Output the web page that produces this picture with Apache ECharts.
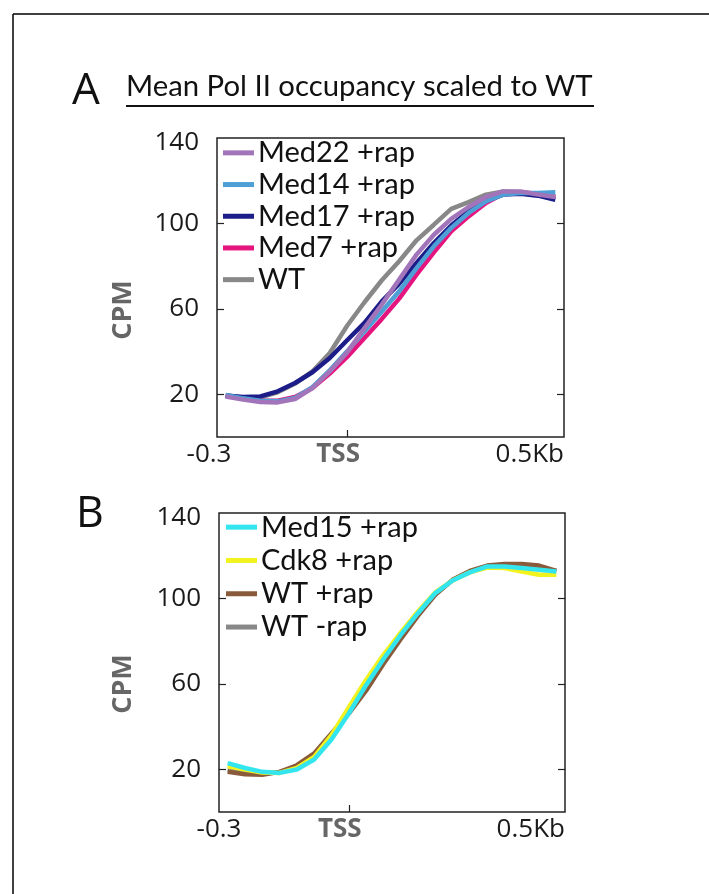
<!DOCTYPE html>
<html>
<head>
<meta charset="utf-8">
<script src="https://cdn.jsdelivr.net/npm/echarts@6/dist/echarts.min.js"></script>
<style>
html,body{margin:0;padding:0;background:#fff;}
#chart{width:709px;height:894px;}
</style>
</head>
<body>
<div id="chart"></div>
<script>
// Distance from TSS (kb)
const xKb = [-0.28, -0.24, -0.20, -0.16, -0.12, -0.08, -0.04, 0.00, 0.04, 0.08, 0.12, 0.16, 0.20, 0.24, 0.28, 0.32, 0.36, 0.40, 0.44, 0.48];

// Panel A
const med22Rap = [19.0, 17.5, 16.4, 16.2, 17.8, 22.9, 30.7, 39.6, 51.0, 62.0, 73.7, 85.4, 94.7, 102.1, 107.7, 112.4, 115.0, 115.0, 113.5, 112.4];
const med14Rap = [19.7, 18.1, 17.0, 16.7, 18.3, 23.3, 31.2, 40.1, 49.5, 58.8, 68.2, 79.1, 89.3, 97.9, 104.9, 110.3, 113.5, 114.2, 114.2, 114.6];
const med17Rap = [19.4, 18.7, 19.0, 21.4, 25.3, 30.3, 37.0, 45.3, 53.4, 63.5, 71.8, 81.5, 90.8, 99.0, 105.7, 110.7, 113.5, 113.9, 113.0, 111.1];
const med7Rap  = [19.4, 18.1, 17.0, 17.0, 18.7, 22.9, 29.7, 37.5, 46.4, 55.3, 64.8, 76.0, 86.5, 96.3, 103.3, 109.6, 113.9, 114.6, 113.9, 112.4];
const wtA      = [19.4, 18.4, 18.6, 20.9, 25.0, 30.7, 39.3, 52.1, 63.1, 73.4, 82.3, 92.1, 99.4, 106.8, 110.0, 113.5, 115.0, 114.6, 113.3, 112.4];

// Panel B
const med15Rap = [22.9, 20.6, 18.8, 18.3, 19.9, 24.6, 33.9, 46.1, 59.4, 71.5, 82.9, 93.1, 102.5, 108.4, 112.2, 115.0, 115.0, 114.2, 113.4, 112.6];
const cdk8Rap  = [21.4, 19.9, 18.5, 18.3, 20.6, 25.8, 36.0, 49.0, 61.8, 73.5, 84.0, 93.9, 102.8, 108.4, 112.2, 114.5, 114.2, 112.6, 111.1, 111.1];
const wtRap    = [18.8, 17.7, 17.4, 18.8, 21.9, 27.4, 36.8, 46.1, 56.8, 69.3, 80.9, 91.8, 101.7, 108.7, 112.9, 115.4, 116.1, 116.1, 115.4, 112.9];
const wtNoRap  = [19.5, 18.5, 18.0, 18.6, 21.0, 26.5, 35.5, 47.0, 58.5, 70.5, 82.0, 92.5, 102.0, 108.5, 112.5, 115.0, 115.5, 115.0, 114.0, 112.8];

// Tick labels
const xTickValues = [-0.3, 0, 0.5];
const xTickLabels = ['-0.3', 'TSS', '0.5Kb'];
const yTickValues = [20, 60, 100, 140];

const seriesA = [
  {name: 'WT', data: wtA, color: '#888888'},
  {name: 'Med7 +rap', data: med7Rap, color: '#e5157f'},
  {name: 'Med17 +rap', data: med17Rap, color: '#1d1d8a'},
  {name: 'Med14 +rap', data: med14Rap, color: '#4d9fd6'},
  {name: 'Med22 +rap', data: med22Rap, color: '#a275ba'}
];
const legendA = ['Med22 +rap', 'Med14 +rap', 'Med17 +rap', 'Med7 +rap', 'WT'];

const seriesB = [
  {name: 'WT -rap', data: wtNoRap, color: '#888888'},
  {name: 'WT +rap', data: wtRap, color: '#8a5b3b'},
  {name: 'Cdk8 +rap', data: cdk8Rap, color: '#f2f21e'},
  {name: 'Med15 +rap', data: med15Rap, color: '#33e5ef'}
];
const legendB = ['Med15 +rap', 'Cdk8 +rap', 'WT +rap', 'WT -rap'];

const FONT = 'Open Sans';
const LFONT = 'Lato';

function xAxisCfg(gridIndex, shiftMin) {
  return {
    type: 'value', gridIndex, min: -0.3, max: 0.5,
    axisLine: {show: false, onZero: false},
    splitLine: {show: false},
    axisTick: {show: true, inside: true, length: 7, customValues: [0], lineStyle: {color: '#222', width: 1.2}},
    axisLabel: {
      show: true, customValues: xTickValues, margin: 5,
      alignMaxLabel: 'right',
      fontFamily: FONT, fontSize: 26, color: '#1a1a1a',
      formatter: function (v) {
        const i = xTickValues.findIndex(t => Math.abs(t - v) < 1e-9);
        if (i === 0) return shiftMin ? '{l|' + xTickLabels[0] + '}' : xTickLabels[0];
        if (i === 1) return '{tss|' + xTickLabels[1] + '}';
        return i >= 0 ? xTickLabels[i] : '';
      },
      rich: {
        tss: {fontFamily: FONT, fontSize: 26, fontWeight: 'bold', color: '#666666', padding: [0, 18, 0, 0]},
        l: {fontFamily: FONT, fontSize: 26, color: '#1a1a1a', padding: [0, 16, 0, 0]}
      }
    }
  };
}
function yAxisCfg(gridIndex, right) {
  return {
    type: 'value', gridIndex, min: 0, max: 140,
    position: right ? 'right' : 'left',
    axisLine: {show: false, onZero: false},
    splitLine: {show: false},
    axisTick: {show: true, inside: true, length: 7, customValues: [20, 60, 100], lineStyle: {color: '#222', width: 1.2}},
    axisLabel: right ? {show: false} : {
      show: true, customValues: yTickValues, margin: 18,
      fontFamily: FONT, fontSize: 26, color: '#1a1a1a',
      formatter: function (v) { return v === 140 ? '{t|' + v + '}' : String(v); },
      rich: {t: {fontFamily: FONT, fontSize: 26, color: '#1a1a1a', padding: [9, 0, 0, 0]}}
    }
  };
}

function lineSeries(s, xi, yi) {
  return {
    type: 'line', name: s.name, xAxisIndex: xi, yAxisIndex: yi,
    data: xKb.map((x, i) => [x, s.data[i]]),
    showSymbol: false, symbol: 'none',
    lineStyle: {width: 4.5, color: s.color},
    itemStyle: {color: s.color},
    silent: true
  };
}

const legendCommon = {
  orient: 'vertical', icon: 'rect', itemWidth: 31, itemHeight: 5, itemGap: 0,
  padding: 0, selectedMode: false
};

const option = {
  animation: false,
  backgroundColor: '#fff',
  grid: [
    {left: 217, top: 138, width: 347, height: 299, show: true, borderColor: '#222', borderWidth: 1.5, backgroundColor: 'transparent'},
    {left: 219, top: 513, width: 346, height: 299, show: true, borderColor: '#222', borderWidth: 1.5, backgroundColor: 'transparent'}
  ],
  xAxis: [xAxisCfg(0, true), xAxisCfg(1, false)],
  yAxis: [yAxisCfg(0, false), yAxisCfg(0, true), yAxisCfg(1, false), yAxisCfg(1, true)],
  legend: [
    Object.assign({}, legendCommon, {data: legendA, left: 223, top: 137,
      textStyle: {fontFamily: LFONT, fontSize: 29, color: '#111', lineHeight: 31.7, padding: [0, 0, 0, -1]}}),
    Object.assign({}, legendCommon, {data: legendB, left: 226, top: 510.5,
      textStyle: {fontFamily: LFONT, fontSize: 29, color: '#111', lineHeight: 33.3, padding: [0, 0, 0, -1]}})
  ],
  series: seriesA.map(s => lineSeries(s, 0, 0)).concat(seriesB.map(s => lineSeries(s, 1, 2))),
  graphic: [
    {type: 'line', shape: {x1: 13, y1: 14, x2: 709, y2: 14}, style: {stroke: '#000', lineWidth: 1.5}},
    {type: 'line', shape: {x1: 13, y1: 14, x2: 13, y2: 894}, style: {stroke: '#000', lineWidth: 1.5}},
    {type: 'text', left: 72, top: 69, style: {text: 'A', fontFamily: FONT, fontSize: 44, fill: '#111'}},
    {type: 'text', left: 126, top: 72, style: {text: 'Mean Pol II occupancy scaled to WT', fontFamily: LFONT, fontSize: 29.3, fill: '#111'}},
    {type: 'line', shape: {x1: 126, y1: 106, x2: 594, y2: 106}, style: {stroke: '#111', lineWidth: 2}},
    {type: 'text', left: 76, top: 493, style: {text: 'B', fontFamily: FONT, fontSize: 43, fill: '#111'}},
    {type: 'text', x: 123, y: 310, rotation: Math.PI / 2, style: {text: 'CPM', fontFamily: FONT, fontSize: 27, fontWeight: 'bold', fill: '#666', align: 'center', verticalAlign: 'middle'}},
    {type: 'text', x: 123, y: 684, rotation: Math.PI / 2, style: {text: 'CPM', fontFamily: FONT, fontSize: 27, fontWeight: 'bold', fill: '#666', align: 'center', verticalAlign: 'middle'}}
  ]
};

const chart = echarts.init(document.getElementById('chart'), null, {renderer: 'canvas'});
chart.setOption(option);
</script>
</body>
</html>
